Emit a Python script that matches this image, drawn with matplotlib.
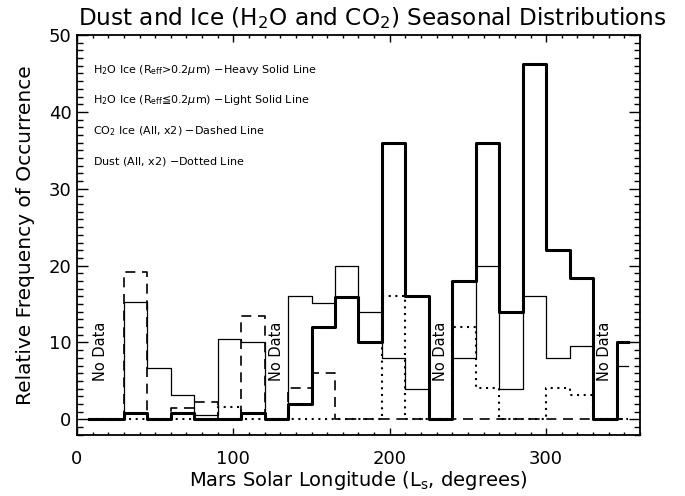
import numpy as np
import matplotlib
matplotlib.use('Agg')
import matplotlib.pyplot as plt
from matplotlib.ticker import MultipleLocator

plt.rcParams['font.family'] = ['DejaVu Sans']
plt.rcParams['mathtext.default'] = 'regular'

# 15-degree Ls bins (bin centres)
ls_centers = np.arange(7.5, 360, 15)

# H2O ice, Reff > 0.2 um (heavy solid)
h2o_large = [0, 0, 0.8, 0, 0.8, 0, 0, 0.8, 0, 2.0, 12.0, 15.9,
             10.0, 36.0, 16.0, 0, 18.0, 36.0, 14.0, 46.2, 22.0, 18.4, 0, 10.0]
# H2O ice, Reff <= 0.2 um (light solid)
h2o_small = [0, 0, 15.3, 6.7, 3.2, 0.5, 10.4, 10.0, 0, 16.0, 15.1, 20.0,
             14.0, 8.0, 4.0, 0, 8.0, 20.0, 4.0, 16.0, 8.0, 9.6, 0, 7.0]
# CO2 ice, x2 (dashed)
co2_ice = [0, 0, 19.2, 0, 1.5, 2.2, 0, 13.4, 0, 4.1, 6.0, 0,
           0, 0, 0, 0, 0, 0, 0, 0, 0, 0, 0, 0]
# Dust, x2 (dotted)
dust = [0, 0, 0, 0, 0, 0, 1.6, 0, 0, 0, 0, 0,
        0, 16.0, 0, 0, 12.0, 4.1, 0, 0, 4.1, 3.2, 0, 0]

# Ls ranges without observations
no_data_ls = [15, 127.5, 232.5, 337.5]

legend_lines = [
    r'H$_2$O Ice (R$_{\rm eff}$>0.2$\mathit{\mu}$m) $-$Heavy Solid Line',
    r'H$_2$O Ice (R$_{\rm eff}$≦0.2$\mathit{\mu}$m) $-$Light Solid Line',
    r'CO$_2$ Ice (All, x2) $-$Dashed Line',
    r'Dust (All, x2) $-$Dotted Line',
]

fig = plt.figure(figsize=(6.85, 4.96), dpi=100)
ax = fig.add_axes([0.1124, 0.1236, 0.8219, 0.8058])

ax.plot(ls_centers, dust, drawstyle='steps-mid', color='black', lw=1.5,
        linestyle=(0, (1, 2.2)))
ax.plot(ls_centers, co2_ice, drawstyle='steps-mid', color='black', lw=1.2,
        linestyle=(0, (6, 4)))
ax.plot(ls_centers, h2o_small, drawstyle='steps-mid', color='black', lw=0.9)
ax.plot(ls_centers, h2o_large, drawstyle='steps-mid', color='black', lw=2.2)

for x in no_data_ls:
    ax.text(x, 8.8, 'No Data', rotation=90, ha='center', va='center', fontsize=10.5)

for i, s in enumerate(legend_lines):
    ax.text(10, 45.5 - 4.0 * i, s, ha='left', va='center', fontsize=8)

ax.set_xlim(0, 360)
ax.set_ylim(-2, 50)
ax.xaxis.set_major_locator(MultipleLocator(100))
ax.xaxis.set_minor_locator(MultipleLocator(10))
ax.yaxis.set_major_locator(MultipleLocator(10))
ax.yaxis.set_minor_locator(MultipleLocator(1))

ax.tick_params(axis='both', which='both', direction='in', top=True, right=True,
               width=1.0, color='black')
ax.tick_params(axis='x', which='major', length=5, pad=11, labelsize=13)
ax.tick_params(axis='x', which='minor', length=2.5)
ax.tick_params(axis='y', which='major', length=8, pad=4, labelsize=13)
ax.tick_params(axis='y', which='minor', length=4)
for sp in ax.spines.values():
    sp.set_linewidth(1.3)

ax.set_xlabel('Mars Solar Longitude (L$_s$, degrees)', fontsize=14, labelpad=1)
ax.set_ylabel('Relative Frequency of Occurrence', fontsize=14.5, labelpad=10)
fig.text(372 / 685, 1 - 18 / 496, 'Dust and Ice (H$_2$O and CO$_2$) Seasonal Distributions',
         ha='center', va='center', fontsize=16.7)

fig.savefig('out.png', dpi=100)
